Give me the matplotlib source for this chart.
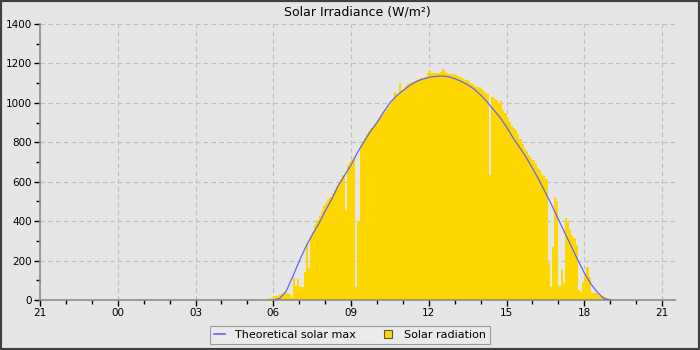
import matplotlib
matplotlib.use("Agg")
import matplotlib.pyplot as plt
from matplotlib.lines import Line2D
from matplotlib.patches import Rectangle
from matplotlib.ticker import MultipleLocator
import numpy as np

# ---- data -------------------------------------------------------------
# measured solar radiation, 5-minute samples starting at 05:45 (W/m²)
rad_start = "05:45"
rad_step_min = 5
rad_values = [
    5, 8, 12,                                    # 05:45-05:55
    18, 20, 25, 28, 30, 33, 35, 30, 15, 110, 72, 105,   # 06:00-06:55
    70, 68, 140, 287, 160, 318, 345, 378, 405, 428, 452, 475,  # 07:00-07:55
    492, 510, 525, 542, 560, 580, 600, 615, 632, 456, 685, 700,  # 08:00-08:55
    715, 725, 68, 400, 785, 805, 822, 840, 855, 870, 885, 900,  # 09:00-09:55
    912, 925, 938, 955, 970, 985, 1000, 1012, 1055, 1040, 1099, 1065,  # 10:00-10:55
    1068, 1088, 1095, 1100, 1105, 1110, 1115, 1120, 1124, 1126, 1130, 1150,  # 11:00-11:55
    1167, 1150, 1152, 1150, 1153, 1158, 1170, 1160, 1150, 1148, 1145, 1145,  # 12:00-12:55
    1141, 1135, 1130, 1125, 1120, 1116, 1112, 1100, 1095, 1088, 1082, 1078,  # 13:00-13:55
    1072, 1062, 1050, 1045, 634, 1030, 1018, 1012, 1000, 1011, 965, 950,  # 14:00-14:55
    925, 905, 885, 872, 860, 840, 815, 790, 768, 755, 735, 718,  # 15:00-15:55
    710, 690, 672, 658, 640, 628, 612, 190, 68, 270, 520, 500,  # 16:00-16:55
    70, 150, 85, 414, 400, 355, 330, 315, 280, 50, 42, 93,  # 17:00-17:55
    135, 169, 118, 37, 35, 34, 30, 22, 20, 15, 12, 10,  # 18:00-18:55
    6,                                           # 19:00
]

# theoretical clear-sky maximum, 15-minute samples starting at 06:00 (W/m²)
theo_start = "06:00"
theo_step_min = 15
theo_values = [
    0, 8, 45, 118,            # 06
    197, 268, 330, 385,       # 07
    450, 510, 578, 632,       # 08
    685, 748, 803, 855,       # 09
    900, 952, 1000, 1035,     # 10
    1062, 1087, 1107, 1120,   # 11
    1129, 1134, 1136, 1133,   # 12
    1123, 1109, 1092, 1070,   # 13
    1040, 1005, 965, 926,     # 14
    878, 823, 775, 725,       # 15
    669, 610, 545, 480,       # 16
    410, 340, 272, 203,       # 17
    138, 82, 40, 8,           # 18
    0,                        # 19
]

x_tick_labels = ["21", "00", "03", "06", "09", "12", "15", "18", "21"]
title = "Solar Irradiance (W/m\u00b2)"
series_names = ["Theoretical solar max", "Solar radiation"]

# ---- helpers ------------------------------------------------------------
def hours_since_21(hhmm):
    """Axis position in hours, counted from 21:00 of the previous day."""
    hh, mm = (int(p) for p in hhmm.split(":"))
    return (hh + mm / 60.0 + 3.0) % 24.0


def sample_positions(start, step_min, n):
    return hours_since_21(start) + np.arange(n) * step_min / 60.0


rad_x = sample_positions(rad_start, rad_step_min, len(rad_values))
theo_x = sample_positions(theo_start, theo_step_min, len(theo_values))

# ---- figure ---------------------------------------------------------------
BG = "#e6e6e6"
GOLD = "#ffd700"
BLUE = "#6464ff"

fig = plt.figure(figsize=(7.0, 3.5), dpi=100, facecolor=BG)
ax = fig.add_axes([40 / 700, 1 - 300 / 350, 635 / 700, 276 / 350])
ax.set_facecolor(BG)

ax.bar(rad_x, rad_values, width=rad_step_min / 60.0, align="edge",
       color=GOLD, linewidth=0, zorder=2)
ax.plot(theo_x, theo_values, color=BLUE, linewidth=0.9, zorder=3)

ax.set_xlim(0, 24.5)
ax.set_ylim(0, 1400)
ax.xaxis.set_minor_locator(MultipleLocator(1))
ax.set_xticks(np.arange(len(x_tick_labels)) * 3)
ax.set_xticklabels(x_tick_labels)
ax.yaxis.set_major_locator(MultipleLocator(200))
ax.yaxis.set_minor_locator(MultipleLocator(100))

ax.grid(True, which="major", color="#c0c0c0", linestyle=(0, (4, 3)),
        linewidth=0.8, zorder=1)
ax.set_axisbelow(True)

for side in ("top", "right"):
    ax.spines[side].set_visible(False)
for side in ("left", "bottom"):
    ax.spines[side].set_color("#8c8c8c")
    ax.spines[side].set_linewidth(1.2)

ax.tick_params(which="major", direction="out", length=4, width=1,
               color="black", labelsize=7.5, pad=2)
ax.tick_params(which="minor", direction="out", length=3, width=1,
               color="black")

ax.set_title(title, fontsize=9, pad=6)

handles = [
    Line2D([], [], color=BLUE, linewidth=1.2),
    Line2D([], [], linestyle="none", marker="s", markersize=6,
           markerfacecolor=GOLD, markeredgecolor="#555555",
           markeredgewidth=0.8),
]
leg = fig.legend(handles, series_names, loc="lower center",
                 bbox_to_anchor=(0.5, 0.0), ncol=2, fontsize=8,
                 frameon=True, fancybox=False, handlelength=1.0,
                 handletextpad=0.9, columnspacing=2.4, borderpad=0.4)
leg.get_frame().set_facecolor("#ececec")
leg.get_frame().set_edgecolor("#888888")
leg.get_frame().set_linewidth(0.8)

# dark frame around the whole figure
fig.patches.append(Rectangle((0, 0), 1, 1, transform=fig.transFigure,
                             fill=False, edgecolor="#404040", linewidth=3,
                             zorder=10))

fig.savefig("out.png", dpi=100, facecolor=BG)
